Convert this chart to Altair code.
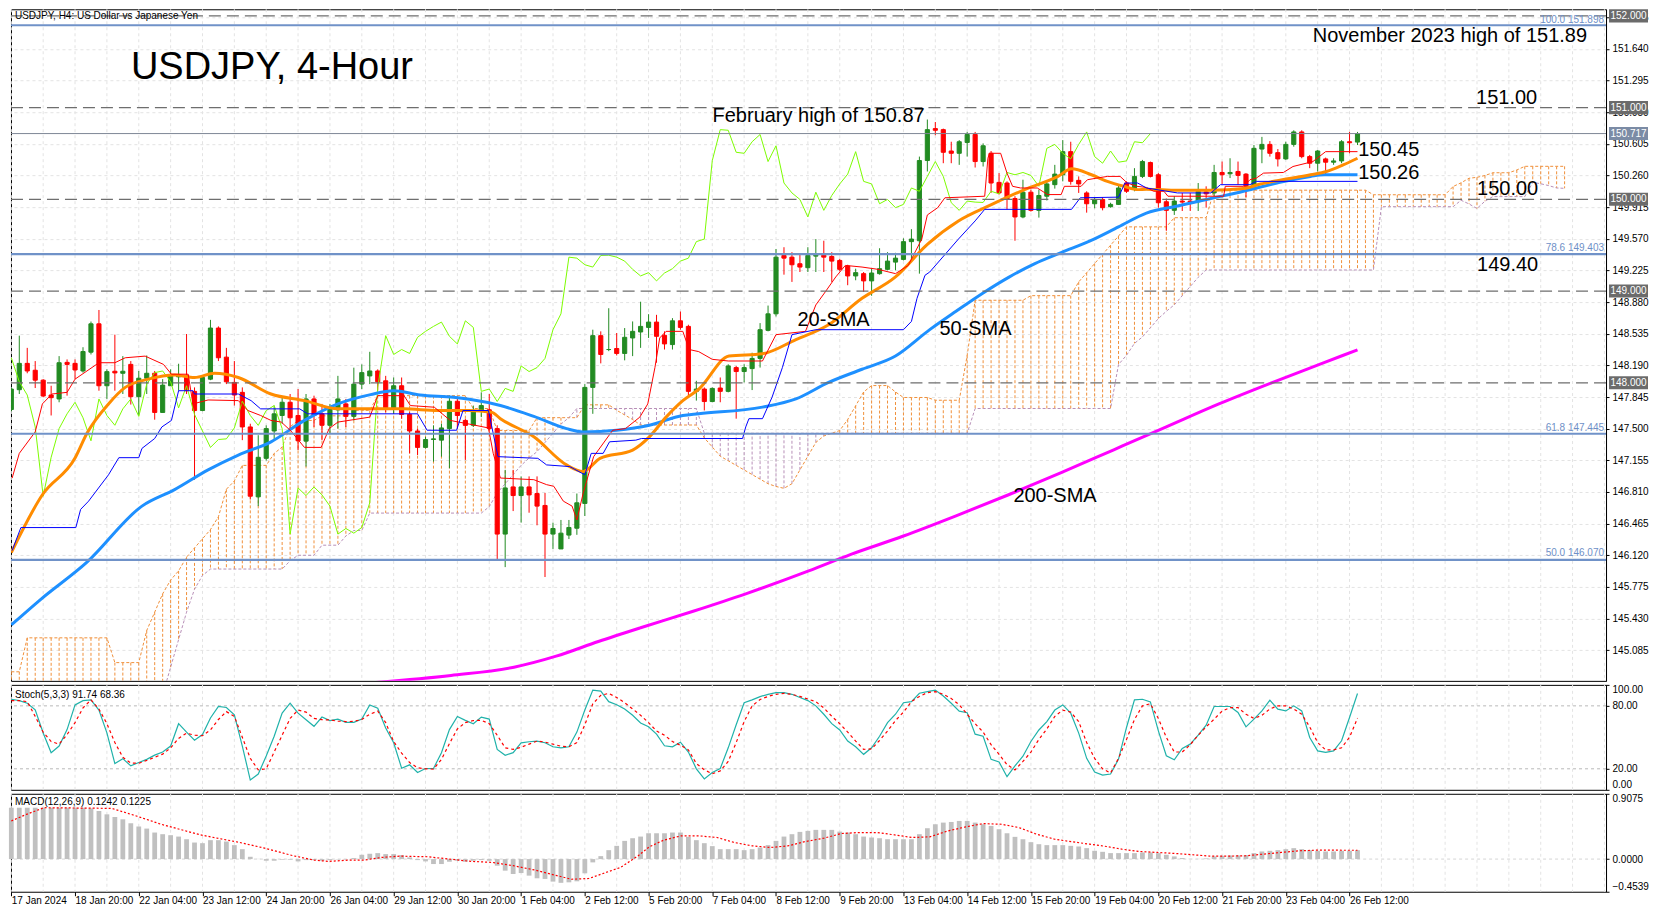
import altair as alt
import pandas as pd

# ---------------- data ----------------
opens = [147.709,147.925,148.212,148.137,148.029,147.867,147.824,148.223,148.212,148.129,
148.334,148.643,147.968,148.126,148.104,148.201,147.849,148.050,148.104,147.677,
147.968,148.065,148.082,147.907,147.698,148.040,148.597,148.280,148.004,147.896,
147.519,146.757,147.177,147.475,147.644,147.788,147.644,147.364,147.824,147.662,
147.537,147.705,147.770,147.634,147.986,148.075,148.129,148.022,147.727,147.968,
147.655,147.475,147.296,147.382,147.375,147.501,147.799,147.590,147.537,147.698,
147.706,147.501,146.351,146.865,146.771,146.865,146.793,146.663,146.351,146.189,
146.340,146.415,146.685,147.950,148.514,148.363,148.374,148.320,148.489,148.554,
148.604,148.662,148.518,148.417,148.676,148.615,147.907,147.932,147.796,147.943,
147.907,148.166,148.123,148.155,148.266,148.572,148.752,149.388,149.370,149.298,
149.255,149.381,149.391,149.377,149.334,149.273,149.165,149.190,149.111,149.190,
149.237,149.316,149.345,149.539,149.549,150.423,150.771,150.760,150.527,150.502,
150.620,150.707,150.412,150.502,150.185,150.178,150.009,149.808,150.078,149.880,
150.034,150.160,150.268,150.520,150.207,150.070,149.952,149.999,149.920,149.945,
150.178,150.117,150.250,150.401,150.268,149.974,149.880,149.981,149.981,149.974,
150.081,150.070,150.293,150.279,150.304,150.275,150.142,150.548,150.599,150.509,
150.441,150.599,150.735,150.466,150.394,150.441,150.405,150.419,150.628,150.624]

highs = [147.950,148.514,148.381,148.237,148.040,147.968,148.291,148.255,148.255,148.388,
148.668,148.794,148.147,148.525,148.291,148.237,148.129,148.298,148.129,148.040,
148.147,148.208,148.532,147.950,148.076,148.686,148.615,148.381,148.237,147.950,
147.554,147.429,147.536,147.752,147.842,147.878,147.932,147.878,147.860,147.770,
147.770,148.076,147.824,148.165,148.201,148.338,148.147,148.076,148.058,148.058,
147.680,147.501,147.411,147.536,147.554,147.860,147.824,147.608,147.752,147.896,
147.878,147.537,147.051,147.051,146.980,146.980,146.980,146.800,146.476,146.505,
146.505,146.793,147.986,148.579,148.561,148.813,148.543,148.597,148.669,148.884,
148.748,148.741,148.561,148.705,148.777,148.633,148.022,147.950,147.950,148.058,
148.202,148.184,148.202,148.328,148.651,148.842,149.459,149.478,149.424,149.399,
149.478,149.567,149.549,149.424,149.352,149.287,149.244,149.208,149.244,149.467,
149.424,149.417,149.575,149.675,150.466,150.870,150.843,150.771,150.628,150.646,
150.735,150.735,150.610,150.527,150.286,150.196,150.034,150.214,150.106,150.106,
150.196,150.376,150.646,150.628,150.250,150.088,150.024,150.024,149.963,150.160,
150.196,150.340,150.430,150.412,150.286,150.009,150.034,150.070,150.070,150.178,
150.142,150.376,150.412,150.448,150.412,150.286,150.592,150.681,150.635,150.548,
150.628,150.753,150.753,150.484,150.538,150.455,150.448,150.646,150.735,150.735]

lows = [147.690,147.878,148.104,147.943,147.842,147.644,147.788,147.860,148.040,148.111,
148.309,147.914,147.824,147.914,147.878,147.763,147.644,147.878,147.598,147.677,
147.968,147.914,147.878,146.943,147.691,148.029,148.237,147.986,147.752,147.375,
146.728,146.656,147.152,147.375,147.554,147.483,147.267,147.087,147.519,147.375,
147.447,147.501,147.519,147.590,147.932,147.986,147.914,147.680,147.662,147.608,
147.231,147.213,147.285,147.141,147.195,147.069,147.501,147.159,147.519,147.626,
147.483,146.063,145.991,146.602,146.476,146.584,146.447,145.883,146.189,146.189,
146.297,146.343,146.548,147.662,148.212,148.345,148.298,148.245,148.291,148.381,
148.489,148.219,148.363,148.363,148.579,147.860,147.806,147.699,147.788,147.788,
147.896,147.609,148.004,147.921,148.166,148.561,148.723,149.179,149.100,149.208,
149.208,149.208,149.208,149.100,149.215,149.064,149.118,148.992,148.949,149.179,
149.226,149.226,149.334,149.316,149.190,150.304,150.699,150.394,150.394,150.376,
150.466,150.347,150.358,150.070,150.052,149.891,149.549,149.794,149.866,149.801,
149.988,150.117,150.196,150.160,150.070,149.855,149.902,149.880,149.909,149.938,
150.070,150.088,150.232,150.239,149.909,149.657,149.830,149.873,149.873,149.873,
149.909,150.034,150.168,150.232,150.160,150.024,150.124,150.394,150.466,150.358,
150.430,150.574,150.448,150.340,150.304,150.268,150.376,150.394,150.502,150.592]

closes = [147.932,148.212,148.129,148.029,147.856,147.838,148.219,148.201,148.140,148.341,
148.643,147.968,148.122,148.108,148.126,147.849,148.050,148.104,147.677,147.975,
148.075,148.082,147.914,147.698,148.058,148.597,148.273,148.011,147.867,147.519,
146.764,147.188,147.501,147.662,147.788,147.619,147.368,147.824,147.644,147.537,
147.716,147.824,147.634,147.986,148.111,148.129,148.011,147.727,147.968,147.655,
147.475,147.296,147.382,147.389,147.508,147.799,147.644,147.536,147.698,147.752,
147.501,146.351,146.854,146.771,146.865,146.778,146.656,146.351,146.412,146.361,
146.423,146.692,147.950,148.514,148.309,148.363,148.320,148.496,148.561,148.615,
148.662,148.507,148.424,148.676,148.604,147.907,147.932,147.796,147.939,147.907,
148.184,148.123,148.166,148.266,148.579,148.752,149.370,149.359,149.287,149.262,
149.388,149.391,149.370,149.327,149.237,149.165,149.201,149.111,149.197,149.244,
149.327,149.359,149.539,149.567,150.423,150.760,150.753,150.513,150.502,150.628,
150.707,150.412,150.584,150.178,150.070,149.999,149.808,150.078,149.880,150.042,
150.168,150.275,150.520,150.196,150.168,149.952,149.999,149.909,149.945,150.124,
150.088,150.250,150.412,150.250,149.963,149.880,149.981,149.970,149.966,150.088,
150.060,150.293,150.268,150.293,150.261,150.142,150.556,150.599,150.502,150.441,
150.599,150.735,150.466,150.394,150.527,150.405,150.419,150.628,150.617,150.717]

# Ichimoku Senkou spans, one value per bar (cloud runs 26 bars past the last candle)
span_a = ([144.85, 144.85] + [145.22] * 11 + [144.95] * 4 +
          [145.3, 145.5, 145.7, 145.85, 145.95, 146.1, 146.2, 146.3, 146.4, 146.54, 146.84, 146.93] +
          [147.1] * 4 + [147.23, 147.3, 147.52] + [147.59] * 3 + [147.64] * 4 + [147.7] * 3 +
          [147.86] * 12 + [147.72] * 3 + [147.48] * 5 + [147.62] * 6 + [147.76] * 4 +
          [147.7, 147.65, 147.6] + [147.54] * 8 +
          [147.4, 147.3, 147.2, 147.15, 147.1, 147.05, 147.0, 146.95, 146.9, 146.87, 146.85,
           146.9, 147.05, 147.2, 147.35, 147.42, 147.45, 147.48, 147.6, 147.75, 147.9] +
          [147.97] * 3 + [147.9] + [147.84] * 4 + [147.81] * 4 + [148.3] + [148.9] * 7 +
          [148.95] * 6 + [149.1, 149.2, 149.3, 149.4, 149.5, 149.6] + [149.7] * 6 + [149.8] * 5 +
          [150.1] * 20 + [150.05] * 10 + [150.14, 150.18, 150.23, 150.24, 150.26] + [150.29] * 3 +
          [150.32] + [150.36] * 6)
span_b = ([144.5] * 19 + [144.6, 144.9, 145.2, 145.5, 145.75, 145.9] + [145.97] * 10 + [146.06] +
          [146.12] * 3 + [146.23] * 3 + [146.33] + [146.39] * 2 + [146.58] * 15 +
          [146.65, 146.8, 146.9, 147.0, 147.1, 147.18, 147.25, 147.35, 147.45, 147.55, 147.62] +
          [147.72] * 16 + [147.45] * 34 + [147.72] * 18 +
          [148.2, 148.3, 148.43, 148.5, 148.6, 148.7, 148.78, 148.85, 148.95, 149.05, 149.15] +
          [149.23] * 22 + [149.92] * 10 + [149.99, 149.95, 149.9, 149.98] + [150.03] * 5 +
          [150.185, 150.17, 150.15, 150.124, 150.12])

sma20 = [(0,146.15),(3.9,146.78),(8,147.18),(9.5,147.45),(12.2,147.77),(14.3,147.95),(17.2,148.04),
         (20.5,148.086),(23,148.058),(25.5,148.104),(28.5,148.058),(32.6,147.878),(36.8,147.806),
         (41,147.716),(45,147.716),(49.3,147.716),(53.5,147.698),(57.5,147.698),(60.3,147.68),
         (61.4,147.609),(65.6,147.411),(69.7,147.105),(71.8,147.033),(73.9,147.177),(78,147.267),
         (80.1,147.411),(82.2,147.626),(84.3,147.806),(86.3,147.93),(90.1,148.292),(94.3,148.317),
         (98.5,148.471),(102.6,148.633),(106.8,148.921),(111,149.154),(115,149.51),(118.9,149.765),
         (123.1,149.945),(127.2,150.106),(131.4,150.25),(133.1,150.333),(135.6,150.268),
         (137.6,150.196),(139.7,150.142),(141.4,150.106),(142.5,150.11),(146.4,150.099),
         (150.6,150.099),(154.7,150.117),(156.8,150.167),(158.9,150.203),(163.1,150.268),
         (165.1,150.304),(167.2,150.376),(169,150.448)]
sma50 = [(0,145.36),(3.7,145.64),(9.5,146.045),(16.4,146.656),(20.5,146.836),(24.7,147.051),
         (28.5,147.213),(32.6,147.357),(36.8,147.59),(41,147.77),(45.1,147.871),(48,147.914),
         (51.3,147.867),(55.5,147.842),(57.5,147.82),(61.4,147.752),(65.6,147.634),(69.7,147.501),
         (71.8,147.465),(76,147.483),(80.1,147.537),(84.3,147.644),(86.3,147.663),(94.3,147.735),
         (98.5,147.824),(102.6,148.004),(106.8,148.148),(111,148.292),(115.3,148.58),(118.6,148.78),
         (122,148.98),(125.2,149.15),(128.5,149.3),(131.8,149.42),(135.5,149.55),(139,149.7),
         (142.5,149.85),(146.4,149.927),(150.6,150.009),(154.7,150.088),(158.9,150.178),
         (163.1,150.25),(164.8,150.268),(169,150.268)]
sma200 = [(45.3,144.73),(55.2,144.81),(63.1,144.9),(68.4,145.02),(73.7,145.18),(79,145.33),
          (85.6,145.51),(92.2,145.7),(100.1,145.95),(105.4,146.13),(112,146.33),(118.6,146.55),
          (125.2,146.78),(131.8,147.02),(138.4,147.27),(145,147.52),(151.6,147.77),(158.2,148.0),
          (164.8,148.22),(169,148.36)]
tenkan = [(0.1,146.961),(1,147.231),(3,147.465),(3.9,147.77),(5.1,147.878),(7,147.896),(8,148.04),
          (11,148.219),(13,148.219),(14.3,148.273),(16.8,148.291),(19.1,148.201),(20.1,148.094),
          (22.2,148.094),(22.8,147.77),(24.7,147.813),(28.5,147.806),(29.7,147.698),(31.3,147.644),
          (32.6,147.59),(33.9,147.572),(35.1,147.475),(36.8,147.296),(38.9,147.296),(39.9,147.501),
          (41,147.572),(45,147.626),(46,147.86),(49.3,147.86),(50.1,147.752),(53.1,147.734),
          (55.1,147.59),(57.5,147.55),(59.9,147.508),(60.5,147.231),(61.4,146.962),(65.6,146.944),
          (67.2,146.89),(68.1,146.872),(69.3,146.71),(70.4,146.656),(71,146.505),(71.8,146.8),
          (73.1,147.195),(75.5,147.483),(77.1,147.501),(78.9,147.626),(79.9,147.77),(80.8,148.166),
          (81.4,148.489),(82.2,148.561),(84.3,148.561),(85.1,148.363),(86.3,148.34),(88,148.256),
          (90,148.238),(94.3,148.238),(96,148.525),(99.7,148.561),(101,148.849),(102.2,148.993),
          (103.5,149.154),(104.7,149.28),(106.8,149.262),(108.8,149.237),(111,149.19),(112.6,149.28),
          (114.3,149.567),(115,149.83),(116.3,149.909),(117.2,150.017),(122.2,150.034),
          (122.6,150.448),(122.8,150.502),(124.2,150.502),(125,150.286),(125.7,150.142),
          (126.7,150.124),(128.8,150.124),(130.1,150.052),(131.8,150.052),(132.2,150.142),
          (134.3,150.142),(135.1,150.214),(136.3,150.232),(137.6,150.25),(139.2,150.25),
          (140.1,150.178),(141.3,150.142),(142.5,150.13),(143.4,150.088),(144.7,150.088),
          (145.2,150.034),(152.2,150.034),(152.4,150.142),(154.7,150.142),(155.5,150.214),
          (156.3,150.232),(157.2,150.286),(159.7,150.293),(160.9,150.358),(163.4,150.412),
          (165,150.52),(169,150.52)]
kijun = [(0.1,146.171),(1.2,146.422),(8.1,146.422),(8.7,146.62),(9.7,146.71),(12.2,146.997),
         (13.5,147.184),(16,147.184),(16.4,147.285),(18,147.393),(18.9,147.519),(20.1,147.59),
         (21,147.914),(22.8,147.914),(23,147.878),(28.5,147.878),(30.1,147.806),(31.3,147.716),
         (36.2,147.716),(37.2,147.662),(51,147.662),(52.2,147.483),(55.9,147.483),(56.7,147.698),
         (59.9,147.698),(61.1,147.195),(66.1,147.177),(67.2,147.105),(70.1,147.087),(72,146.997),
         (72.8,147.231),(74.3,147.231),(75.1,147.357),(78.4,147.375),(79.1,147.393),(91.8,147.393),
         (92.2,147.519),(92.6,147.609),(94.3,147.609),(95.5,147.842),(96.8,148.166),(98,148.525),
         (101,148.579),(112,148.579),(113,148.669),(113.7,148.921),(114.7,149.172),(115.3,149.208),
         (118.9,149.567),(121,149.765),(122.2,149.891),(133.1,149.891),(134.2,150.017),
         (139,150.024),(139.8,150.178),(141.4,150.178),(142.5,150.124),(146.4,150.07),
         (150.6,150.07),(151.8,150.16),(155.5,150.16),(156.3,150.196),(169,150.196)]

stoch_k = [86.3,85,82.5,76.2,54.2,35.4,41.7,57.4,80.9,85,
85.7,76,54.2,25,29.7,22.8,26,29,33,36,
41.7,63,54.9,47.3,52.7,68.4,79.4,78.4,71.5,41.7,
9.3,15,32.2,51.1,73.1,82.5,73.1,66.8,60.5,69.3,
65.9,67.4,64.3,64.3,67.4,80.9,77.8,58.9,44.8,20.6,
23.8,16.5,20.3,20.3,35.4,57.4,69.9,66.2,63,69.3,
67.4,38.5,32.9,35.4,44.8,45.8,46.4,44.8,41,40,
41,55,76,95,94,84,81,77,71,63.7,
60,53,42,41,45.4,36,20,10.3,16.5,20.3,
40,62,83,85.7,88.8,91,92.6,92.6,91,88,
85,80,72,63,57,46.4,41,33.8,40,51,
64,72,83,84,92,93.5,95,89.4,82.5,75,
73.5,53,51,29,26.6,12.5,22.8,32,46,57,
65,76,80.9,73,54,30,17,14,15,29.2,
59.4,85.7,86.3,83.8,56.2,32.4,28.6,39.4,43.5,52.1,
61.6,79.4,79.4,79.4,73.7,60,67.3,75.2,85.4,76.8,
75.2,80,75.2,49.8,37.1,35.6,37.1,46.7,68.9,91.74]
stoch_d = [85,85,84,70,55,46,43.5,52.7,64,78,
85.7,77,63,45,31,25.5,25.3,28,31,34,
40,49,54,52,51.5,57,67,74.5,70,50,
30,19,20,36,52,68,76,74,68,66.8,
66.5,65.5,65,65.2,67,72,75,64,46,35,
26,21,20,19.7,29,44,58,64,66,66.2,
63,52,40,38.5,40.5,43.5,46.4,45.5,43.5,41.5,
41,45,62,82,90,91.9,88,83,77,71,
64,56,52,46,42.5,38,25,19,15.3,18,
27,45,65,80,86,89,91,91.9,91,89,
86.5,84,78,70,63,55,46.4,38.5,39,47,
56,66,74,84,89,92.6,93.5,91,87,81,
72,63,55,43,33.8,24,19,27,36,48,
58,70,76,74,65,45,30,20,16,30,
48,67,80,82,68,50,36,36,43,52,
60,67.3,75,78.4,78.4,72,68,71,77,80,
80,77,72,60,45,38,38,40,50,68.36]

macd_hist = [0.714,0.714,0.714,0.714,0.714,0.714,0.714,0.714,0.714,0.714,
0.705,0.668,0.622,0.585,0.553,0.498,0.452,0.424,0.369,0.346,
0.332,0.313,0.276,0.230,0.221,0.263,0.263,0.244,0.194,0.138,
0.032,0.003,-0.023,-0.023,-0.009,-0.009,-0.032,-0.014,-0.014,-0.023,
-0.014,-0.005,-0.005,0.014,0.060,0.074,0.083,0.069,0.069,0.055,
0.023,-0.014,-0.032,-0.069,-0.069,-0.037,-0.023,-0.037,-0.023,-0.014,
-0.023,-0.092,-0.161,-0.207,-0.194,-0.230,-0.267,-0.276,-0.313,-0.330,
-0.323,-0.309,-0.198,-0.046,0.041,0.124,0.184,0.253,0.290,0.313,
0.359,0.359,0.359,0.369,0.369,0.309,0.263,0.221,0.180,0.138,
0.138,0.138,0.124,0.138,0.161,0.194,0.253,0.313,0.346,0.378,
0.392,0.406,0.406,0.406,0.382,0.369,0.346,0.313,0.300,0.290,
0.276,0.276,0.276,0.276,0.346,0.429,0.484,0.507,0.516,0.530,
0.530,0.507,0.484,0.461,0.415,0.359,0.309,0.276,0.235,0.207,
0.194,0.194,0.194,0.184,0.175,0.152,0.115,0.101,0.083,0.083,
0.083,0.083,0.092,0.092,0.083,0.060,0.037,0.014,0.003,0.003,
0.009,0.037,0.046,0.051,0.051,0.055,0.083,0.106,0.115,0.124,
0.138,0.152,0.138,0.124,0.115,0.106,0.106,0.115,0.115,0.1242]
macd_signal = [(0,0.53),(1.9,0.622),(4.1,0.714),(12.6,0.705),(15.7,0.599),(18.8,0.484),(23.75,0.336),
               (28.7,0.23),(31.8,0.152),(35.4,0.046),(38,-0.014),(39.8,-0.032),(42.5,-0.014),
               (44.3,-0.014),(46.5,0.023),(48.75,0.041),(52.3,0.032),(55,0.0),(57.7,-0.032),
               (60.4,-0.046),(63,-0.092),(65.7,-0.152),(68.5,-0.23),(70.3,-0.28),(72.5,-0.27),
               (74.3,-0.2),(76.5,-0.115),(78.7,0.046),(80.1,0.171),(81.9,0.263),(84.1,0.323),
               (86.3,0.323),(88.6,0.3),(90.8,0.23),(93,0.184),(95.3,0.161),(97.5,0.184),(99.7,0.244),
               (102,0.29),(104.2,0.355),(106.4,0.369),(108.7,0.369),(110.9,0.336),(113.1,0.3),
               (115.3,0.309),(117.6,0.392),(119.8,0.447),(122,0.493),(124.3,0.484),(126.5,0.438),
               (128.7,0.346),(131,0.276),(133.2,0.24),(135.4,0.207),(137.5,0.175),(139.4,0.138),
               (141.6,0.106),(143.9,0.092),(146.1,0.078),(148.3,0.06),(150.5,0.041),(152.8,0.041),
               (155,0.046),(157.2,0.069),(159.4,0.092),(161.6,0.115),(163.9,0.124),(169,0.1225)]

price_ticks = [145.085,145.430,145.775,146.120,146.465,146.810,147.155,147.500,147.845,148.190,
               148.535,148.880,149.225,149.570,149.915,150.260,150.605,150.950,151.295,151.640,151.985]
x_label_pos = [0,8,16,24,32,40,48,56,64,72,80,88,96,104,112,120,128,136,144,152,160,168]
x_labels = ['17 Jan 2024','18 Jan 20:00','22 Jan 04:00','23 Jan 12:00','24 Jan 20:00','26 Jan 04:00',
            '29 Jan 12:00','30 Jan 20:00','1 Feb 04:00','2 Feb 12:00','5 Feb 20:00','7 Feb 04:00',
            '8 Feb 12:00','9 Feb 20:00','13 Feb 04:00','14 Feb 12:00','15 Feb 20:00','19 Feb 04:00',
            '20 Feb 12:00','21 Feb 20:00','23 Feb 04:00','26 Feb 12:00']
grid_pos = list(range(0, 201, 4))
round_levels = [152.0, 151.0, 150.0, 149.0, 148.0]
fib_levels = [151.898, 149.403, 147.445, 146.070]
fib_texts = ['100.0  151.898', '78.6  149.403', '61.8  147.445', '50.0  146.070']
last_price = 150.717
chikou_shift = 26

# ---------------- styling ----------------
GREEN, RED = '#228B22', '#FF0000'
CLOUD_UP, CLOUD_DN = '#F0903A', '#B890B8'
FONT = 'Liberation Sans'
W = 1596
H_MAIN, H_STO, H_MACD = 672, 105, 98
XS = alt.Scale(domain=[-0.04, 200.2], nice=False, zero=False)
YS = alt.Scale(domain=[144.751, 152.072], nice=False, zero=False)
SS = alt.Scale(domain=[0, 100], nice=False, zero=False)
MS = alt.Scale(domain=[-0.4539, 0.9075], nice=False, zero=False)

YAX = alt.Axis(orient='right', values=price_ticks, format='.3f', title=None, grid=True,
               gridColor='#E3E3E3', gridDash=[3, 3], tickSize=3, labelPadding=3)
SAX = alt.Axis(orient='right', values=[0, 20, 80, 100], format='.2f', title=None, grid=False,
               tickSize=3, labelPadding=3, labelFlush=True)
MAX = alt.Axis(orient='right', values=[-0.4539, 0.0, 0.9075], format='.4f', title=None, grid=False,
               tickSize=3, labelPadding=3, labelFlush=True)
label_expr = "[" + ",".join("'%s'" % s for s in x_labels) + "][round(datum.value / 8)]"
XAX = alt.Axis(values=x_label_pos, labelExpr=label_expr, labelAlign='left', labelPadding=0, tickSize=4,
               labelOverlap=False, grid=False, domain=False, title=None, labelBound=False)


def xe(field, axis=None):
    return alt.X(field, type='quantitative', scale=XS, axis=axis, title=None)


def ye(field, scale, axis):
    return alt.Y(field, type='quantitative', scale=scale, axis=axis, title=None)


def line(points, color, width, scale, axis, dash=None, interp='linear', xaxis=None):
    df = pd.DataFrame(points, columns=['i', 'v'])
    kw = dict(color=color, strokeWidth=width, interpolate=interp, clip=True)
    if dash is not None:
        kw['strokeDash'] = dash
    return alt.Chart(df).mark_line(**kw).encode(x=xe('i', xaxis), y=ye('v', scale, axis))


def text(t, x, y, size, align='left', color='black', baseline='alphabetic'):
    return alt.Chart(pd.DataFrame({'a': [0]})).mark_text(
        font=FONT, fontSize=size, align=align, baseline=baseline, color=color
    ).encode(x=alt.value(x), y=alt.value(y), text=alt.value(t))


def vgrid(xaxis=None):
    return alt.Chart(pd.DataFrame({'g': grid_pos})).mark_rule(
        color='#E3E3E3', strokeDash=[3, 3], strokeWidth=1).encode(x=xe('g', xaxis))


# ---------------- main panel ----------------
n = len(opens)
cand = pd.DataFrame({'i': list(range(n)), 'o': opens, 'h': highs, 'l': lows, 'c': closes})
cand['dir'] = ['up' if c >= o else 'dn' for o, c in zip(opens, closes)]

m = len(span_a)
cloud = pd.DataFrame({'i': list(range(m)), 'a': span_a, 'b': span_b})
cloud['k'] = ['up' if a >= b else 'dn' for a, b in zip(span_a, span_b)]

chikou = [(i, closes[i + chikou_shift]) for i in range(n - chikou_shift)]

layers = [vgrid()]
for k, colr in (('up', CLOUD_UP), ('dn', CLOUD_DN)):
    layers.append(alt.Chart(cloud).transform_filter("datum.k == '%s'" % k).mark_rule(
        color=colr, strokeWidth=1, strokeDash=[3, 2], clip=True).encode(
        x=xe('i'), y=ye('a', YS, YAX), y2='b'))
layers.append(line(list(zip(range(m), span_a)), CLOUD_UP, 1, YS, YAX, dash=[3, 2]))
layers.append(line(list(zip(range(m), span_b)), CLOUD_DN, 1, YS, YAX, dash=[3, 2]))

for k, colr in (('up', GREEN), ('dn', RED)):
    sub = alt.Chart(cand).transform_filter("datum.dir == '%s'" % k)
    layers.append(sub.mark_rule(color=colr, strokeWidth=1, clip=True).encode(
        x=xe('i'), y=ye('l', YS, YAX), y2='h'))
    layers.append(sub.transform_calculate(x1='datum.i - 0.26', x2='datum.i + 0.26').mark_rect(
        color=colr, stroke=colr, strokeWidth=1, clip=True).encode(
        x=xe('x1'), x2='x2', y=ye('o', YS, YAX), y2='c'))

layers.append(line(chikou, '#7CFC00', 1, YS, YAX))
layers.append(line(sma200, '#FF00FF', 3, YS, YAX, interp='monotone'))
layers.append(line(sma50, '#1E90FF', 3, YS, YAX, interp='monotone'))
layers.append(line(sma20, '#FF8C00', 3, YS, YAX, interp='monotone'))
layers.append(line(tenkan, '#FF0000', 1, YS, YAX))
layers.append(line(kijun, '#0000FF', 1, YS, YAX))

layers.append(alt.Chart(pd.DataFrame({'p': round_levels})).mark_rule(
    color='#6E6E6E', strokeWidth=1.2, strokeDash=[12, 6]).encode(y=ye('p', YS, YAX)))
layers.append(alt.Chart(pd.DataFrame({'p': fib_levels})).mark_rule(
    color='#7092C8', strokeWidth=2.2).encode(y=ye('p', YS, YAX)))
layers.append(alt.Chart(pd.DataFrame({'p': [last_price]})).mark_rule(
    color='#7D8796', strokeWidth=1).encode(y=ye('p', YS, YAX)))

# annotations
layers += [
    text('USDJPY, H4:  US Dollar vs Japanese Yen', 4, 10, 10),
    text('USDJPY, 4-Hour', 120, 70, 38),
    text('November 2023 high of 151.89', 1577, 33, 20, align='right'),
    text('151.00', 1466, 95, 20),
    text('February high of 150.87', 702, 113, 20),
    text('150.45', 1348, 147, 20),
    text('150.26', 1348, 170, 20),
    text('150.00', 1467, 186, 20),
    text('149.40', 1467, 262, 20),
    text('20-SMA', 787, 317, 20),
    text('50-SMA', 929, 326, 20),
    text('200-SMA', 1003, 493, 20),
]
for t, y in zip(fib_texts, [14, 242, 422, 547]):
    layers.append(text(t, 1594, y, 10, align='right', color='#6E8FC7'))

# price boxes on the right scale
box_df = pd.DataFrame({'p': round_levels + [last_price], 'k': ['r'] * len(round_levels) + ['last']})
for k, colr in (('r', '#6B6B6B'), ('last', '#7B8BA5')):
    sub = alt.Chart(box_df).transform_filter("datum.k == '%s'" % k)
    layers.append(sub.transform_calculate(lo='datum.p - 0.071', hi='datum.p + 0.071').mark_rect(
        color=colr).encode(x=alt.value(1599), x2=alt.value(1638), y=ye('lo', YS, YAX), y2='hi'))
    layers.append(sub.mark_text(font=FONT, fontSize=10, color='white', align='center',
                                baseline='middle').encode(
        x=alt.value(1618.5), y=ye('p', YS, YAX), text=alt.Text('p:Q', format='.3f')))

main = alt.layer(*layers).properties(width=W, height=H_MAIN)

# ---------------- stochastic panel ----------------
sto_layers = [
    vgrid(),
    alt.Chart(pd.DataFrame({'v': [20, 80]})).mark_rule(color='#B8B8B8', strokeDash=[3, 3]).encode(
        y=ye('v', SS, SAX)),
    line(list(zip(range(n), stoch_k)), '#20B2AA', 1.2, SS, SAX),
    line(list(zip(range(n), stoch_d)), '#FF0000', 1.2, SS, SAX, dash=[3, 3]),
    text('Stoch(5,3,3) 91.74 68.36', 4, 13, 10),
]
stoch = alt.layer(*sto_layers).properties(width=W, height=H_STO)

# ---------------- MACD panel ----------------
hist_df = pd.DataFrame({'i': list(range(n)), 'h': macd_hist})
macd_layers = [
    vgrid(XAX),
    alt.Chart(pd.DataFrame({'v': [0.0]})).mark_rule(color='#D6D6D6', strokeDash=[3, 3]).encode(
        y=ye('v', MS, MAX)),
    alt.Chart(hist_df).transform_calculate(x1='datum.i - 0.3', x2='datum.i + 0.3', z='0').mark_rect(
        color='#C0C0C0').encode(x=xe('x1', XAX), x2='x2', y=ye('h', MS, MAX), y2='z:Q'),
    line(macd_signal, '#FF0000', 1.2, MS, MAX, dash=[2, 2], xaxis=XAX),
    text('MACD(12,26,9) 0.1242 0.1225', 4, 11, 10),
]
macd = alt.layer(*macd_layers).properties(width=W, height=H_MACD)

chart = alt.vconcat(main, stoch, macd, spacing=2).properties(
    padding={'left': 0, 'top': 0, 'right': 0, 'bottom': 0}, background='white'
).configure_view(stroke='black', strokeWidth=1).configure_axis(
    labelFont=FONT, labelFontSize=10, labelColor='black', tickColor='black', domainColor='black'
)

chart.save('out.html', embed_options={'renderer': 'svg', 'actions': False})
